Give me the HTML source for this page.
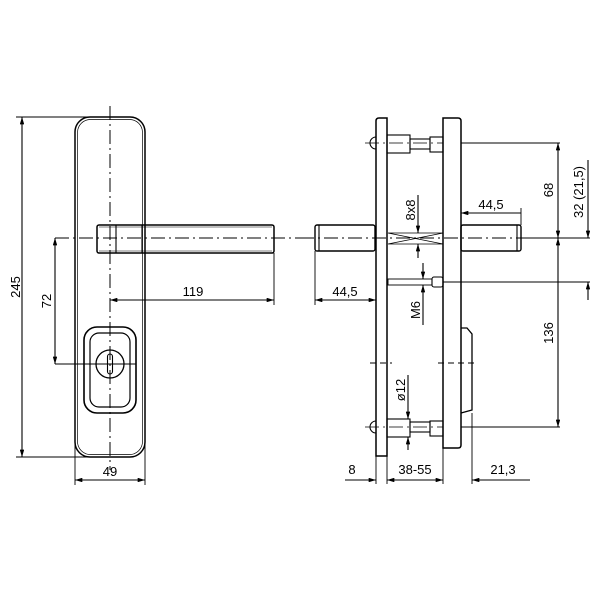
<!DOCTYPE html>
<html><head><style>body{margin:0;background:#fff}svg{display:block}text{font-family:"Liberation Sans",sans-serif;font-size:13px;fill:#000}</style></head><body>
<svg width="600" height="600" viewBox="0 0 600 600" xmlns="http://www.w3.org/2000/svg">
<defs>
<marker id="a" viewBox="0 0 10 6" refX="10" refY="3" markerWidth="8" markerHeight="4" orient="auto-start-reverse"><path d="M0,0L10,3L0,6z" fill="#000"/></marker>
</defs>
<g fill="none" stroke="#000" stroke-width="1.1">
<!-- LEFT VIEW -->
<rect x="75" y="117" width="70" height="340" rx="15" stroke-width="1.5"/>
<rect x="77.5" y="119.5" width="65" height="335" rx="13" stroke-width="0.7"/>
<line x1="110" y1="106" x2="110" y2="470" stroke-dasharray="14,4,2,4" stroke-width="1"/>
<rect x="97" y="225" width="177" height="28" rx="2" stroke-width="1.5"/>
<line x1="99" y1="227" x2="272" y2="227" stroke-width="0.6"/>
<line x1="99" y1="251" x2="272" y2="251" stroke-width="0.6"/>
<line x1="116" y1="225" x2="116" y2="253"/>
<line x1="142" y1="225" x2="142" y2="253"/>
<line x1="55" y1="238" x2="300" y2="238" stroke-dasharray="14,4,2,4" stroke-width="1"/>
<rect x="84" y="327" width="52" height="86" rx="13" stroke-width="1.6"/>
<rect x="90" y="333" width="40" height="74" rx="9" stroke-width="1.2"/>
<circle cx="110" cy="364" r="14" stroke-width="1.3"/>
<rect x="107.5" y="354" width="5" height="20" rx="2.5"/>
<line x1="55" y1="364" x2="136" y2="364"/>
<!-- 245 -->
<line x1="22" y1="117" x2="22" y2="457" marker-start="url(#a)" marker-end="url(#a)"/>
<line x1="16" y1="117" x2="110" y2="117" stroke-width="0.9"/>
<line x1="16" y1="457" x2="110" y2="457" stroke-width="0.9"/>
<!-- 72 -->
<line x1="55" y1="238" x2="55" y2="364" marker-start="url(#a)" marker-end="url(#a)"/>
<!-- 119 -->
<line x1="110" y1="300" x2="274" y2="300" marker-start="url(#a)" marker-end="url(#a)"/>
<line x1="274" y1="253" x2="274" y2="305" stroke-width="0.9"/>
<!-- 49 -->
<line x1="75" y1="480" x2="145" y2="480" marker-start="url(#a)" marker-end="url(#a)"/>
<line x1="75" y1="440" x2="75" y2="485" stroke-width="0.9"/>
<line x1="145" y1="440" x2="145" y2="485" stroke-width="0.9"/>

<!-- RIGHT VIEW -->
<path d="M376,456 V121 Q376,118 379,118 H387 V456 Z" stroke-width="1.5"/>
<path d="M443,448 V118 H458 Q461,118 461,121 V445 Q461,448 458,448 Z" stroke-width="1.5"/>
<path d="M461,328 L467,328 L472,334 L472,410 L461,413" stroke-width="1.3"/>
<line x1="376" y1="456" x2="376" y2="484" stroke-width="0.9"/>
<line x1="387" y1="456" x2="387" y2="484" stroke-width="0.9"/>
<line x1="443" y1="448" x2="443" y2="484" stroke-width="0.9"/>
<line x1="472" y1="413" x2="472" y2="484" stroke-width="0.9"/>
<g>
<path d="M376,137 A6,6 0 0 0 376,149"/>
<rect x="387" y="135" width="23" height="18"/>
<rect x="410" y="139" width="20" height="10"/>
<rect x="430" y="137" width="13" height="15"/>
<path d="M376,421 A6,6 0 0 0 376,433"/>
<rect x="387" y="419" width="23" height="18"/>
<rect x="410" y="422" width="20" height="10"/>
<rect x="430" y="421" width="13" height="15"/>
</g>
<line x1="365" y1="143" x2="443" y2="143" stroke-dasharray="14,4,2,4" stroke-width="0.8"/>
<line x1="461" y1="143" x2="560" y2="143"/>
<line x1="365" y1="427" x2="443" y2="427" stroke-dasharray="14,4,2,4" stroke-width="0.8"/>
<line x1="461" y1="427" x2="560" y2="427"/>
<rect x="315" y="225" width="60" height="26" rx="2" stroke-width="1.4"/>
<line x1="319" y1="225" x2="319" y2="251"/>
<rect x="461" y="225" width="60" height="26" rx="2" stroke-width="1.4"/>
<line x1="517" y1="225" x2="517" y2="251"/>
<path d="M388,233 L443,244 M388,244 L443,233 M388,233 H443 M388,244 H443" stroke-width="0.8"/>
<line x1="300" y1="238" x2="521" y2="238" stroke-dasharray="14,4,2,4" stroke-width="1"/>
<line x1="521" y1="238" x2="590" y2="238"/>
<rect x="388" y="279" width="44" height="6" stroke-width="0.9"/>
<rect x="432" y="277" width="11" height="10" rx="2"/>
<line x1="443" y1="282" x2="590" y2="282"/>
<line x1="370" y1="363" x2="392" y2="363" stroke-dasharray="6,4"/>
<line x1="438" y1="363" x2="478" y2="363" stroke-dasharray="6,4"/>
<line x1="558" y1="143" x2="558" y2="238" marker-start="url(#a)" marker-end="url(#a)"/>
<line x1="558" y1="238" x2="558" y2="427" marker-start="url(#a)" marker-end="url(#a)"/>
<line x1="588" y1="160" x2="588" y2="238" marker-end="url(#a)"/>
<line x1="588" y1="282" x2="588" y2="300" marker-start="url(#a)"/>
<line x1="315" y1="300" x2="376" y2="300" marker-start="url(#a)" marker-end="url(#a)"/>
<line x1="315" y1="251" x2="315" y2="305" stroke-width="0.9"/>
<line x1="461" y1="213" x2="521" y2="213" marker-start="url(#a)"/>
<line x1="521" y1="208" x2="521" y2="225" stroke-width="0.9"/>
<line x1="418" y1="195" x2="418" y2="233" marker-end="url(#a)"/>
<line x1="418" y1="244" x2="418" y2="258" marker-start="url(#a)"/>
<line x1="423" y1="263" x2="423" y2="279" marker-end="url(#a)"/>
<line x1="423" y1="285" x2="423" y2="325" marker-start="url(#a)"/>
<line x1="408" y1="375" x2="408" y2="419" marker-end="url(#a)"/>
<line x1="408" y1="437" x2="408" y2="450" marker-start="url(#a)"/>
<line x1="345" y1="480" x2="376" y2="480" marker-end="url(#a)"/>
<line x1="387" y1="480" x2="443" y2="480" marker-start="url(#a)" marker-end="url(#a)"/>
<line x1="472" y1="480" x2="530" y2="480" marker-start="url(#a)"/>
</g>
<text transform="translate(20,287) rotate(-90)" text-anchor="middle">245</text>
<text transform="translate(51,301) rotate(-90)" text-anchor="middle">72</text>
<text x="193" y="296" text-anchor="middle">119</text>
<text x="110" y="476" text-anchor="middle">49</text>
<text x="345" y="296" text-anchor="middle">44,5</text>
<text x="491" y="209" text-anchor="middle">44,5</text>
<text transform="translate(553,190) rotate(-90)" text-anchor="middle">68</text>
<text transform="translate(553,333) rotate(-90)" text-anchor="middle">136</text>
<text transform="translate(583,192) rotate(-90)" text-anchor="middle">32 (21,5)</text>
<text transform="translate(415,210) rotate(-90)" text-anchor="middle" font-size="12">8x8</text>
<text transform="translate(420,310) rotate(-90)" text-anchor="middle" font-size="12">M6</text>
<text transform="translate(405,390) rotate(-90)" text-anchor="middle" font-size="12">ø12</text>
<text x="352" y="474" text-anchor="middle">8</text>
<text x="415" y="474" text-anchor="middle">38-55</text>
<text x="503" y="474" text-anchor="middle">21,3</text>
</svg>
</body></html>
